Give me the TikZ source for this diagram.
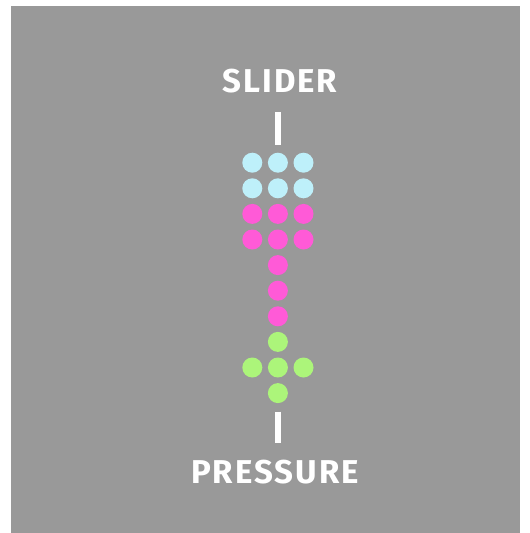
\documentclass[tikz,border=0pt]{standalone}
\usepackage{fontspec}
\usetikzlibrary{positioning}
\newfontfamily\firasans{Fira Sans}[LetterSpace=6]
\newcommand{\lblfont}{\fontsize{33}{33}\firasans\bfseries}
\definecolor{panelgray}{RGB}{153,153,153}
\definecolor{iceblue}{RGB}{190,240,250}
\definecolor{hotpink}{RGB}{255,90,215}
\definecolor{limegreen}{RGB}{172,245,122}
\tikzset{
  dot/.style={circle,minimum size=20pt,inner sep=0pt,outer sep=0pt},
  icedot/.style={dot,fill=iceblue},
  pinkdot/.style={dot,fill=hotpink},
  limedot/.style={dot,fill=limegreen},
  lbl/.style={text=white,font=\lblfont,inner sep=0pt,anchor=base},
  bar/.style={draw=white,line width=6pt}
}
\begin{document}
\begin{tikzpicture}[x=1pt,y=-1pt,node distance=5.6pt]
  \useasboundingbox (0,0) rectangle (530,533);
  \fill[panelgray] (11,6) rectangle (520,533);

  \node[lbl] (sld) at (280,92.7) {SLIDER};
  \node[lbl] (pre) at (275,483.3) {PRESSURE};

  % slider rows
  \node[icedot] (b1) at (252.3,162.7) {};
  \node[icedot, right=of b1] (b2) {};
  \node[icedot, right=of b2] (b3) {};
  \node[icedot, below=of b1] (b4) {};
  \node[icedot, right=of b4] (b5) {};
  \node[icedot, right=of b5] (b6) {};

  % pink block and stem
  \node[pinkdot, below=of b4] (p1) {};
  \node[pinkdot, right=of p1] (p2) {};
  \node[pinkdot, right=of p2] (p3) {};
  \node[pinkdot, below=of p1] (p4) {};
  \node[pinkdot, right=of p4] (p5) {};
  \node[pinkdot, right=of p5] (p6) {};
  \node[pinkdot, below=of p5] (p7) {};
  \node[pinkdot, below=of p7] (p8) {};
  \node[pinkdot, below=of p8] (p9) {};

  % pressure cross
  \node[limedot, below=of p9] (g1) {};
  \node[limedot, below=of g1] (g3) {};
  \node[limedot, left=of g3] (g2) {};
  \node[limedot, right=of g3] (g4) {};
  \node[limedot, below=of g3] (g5) {};

  \draw[bar] ([yshift=-19pt]b2.north |- sld.south) -- ([yshift=7.7pt]b2.north);
  \draw[bar] ([yshift=-8.4pt]g5.south) -- ([yshift=17pt]g5.south |- pre.north);
\end{tikzpicture}
\end{document}
